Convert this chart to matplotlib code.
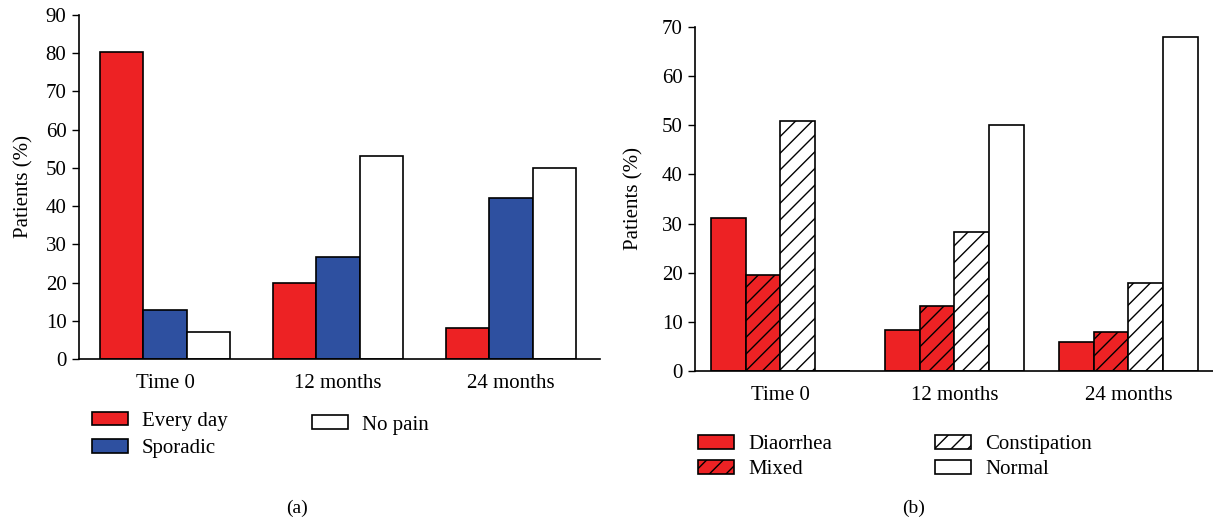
import numpy as np
import matplotlib
matplotlib.use("Agg")
import matplotlib.pyplot as plt

plt.rcParams["font.family"] = ["Liberation Serif", "DejaVu Serif"]
plt.rcParams["hatch.linewidth"] = 1.0

groups = ["Time 0", "12 months", "24 months"]

# panel (a): abdominal pain
pain_labels = ["Every day", "Sporadic", "No pain"]
every_day = [80.2, 20.0, 8.0]
sporadic = [12.7, 26.6, 42.0]
no_pain = [7.0, 53.2, 50.0]

# panel (b): bowel habit
bowel_labels = ["Diaorrhea", "Mixed", "Constipation", "Normal"]
diarrhea = [31.1, 8.3, 6.0]
mixed = [19.6, 13.3, 8.0]
constipation = [50.8, 28.3, 18.0]
normal = [0.0, 50.0, 68.0]

RED = "#ED2224"
BLUE = "#2E50A0"
FS = 15

fig = plt.figure(figsize=(12.13, 5.2), dpi=100)


def style_axes(ax, ymax, step):
    for s in ["top", "right"]:
        ax.spines[s].set_visible(False)
    for s in ["left", "bottom"]:
        ax.spines[s].set_linewidth(1.2)
    ax.set_ylim(0, ymax)
    ax.set_yticks(np.arange(0, ymax + 1, step))
    ax.tick_params(axis="y", direction="out", length=5, width=1.0, labelsize=FS, pad=4)
    ax.tick_params(axis="x", length=0, labelsize=FS, pad=11)
    ax.set_ylabel("Patients (%)", fontsize=FS)


# ---- (a)
ax1 = fig.add_axes([79 / 1213, 1 - 359 / 520, (600 - 79) / 1213, (359 - 15) / 520])
x = np.arange(len(groups))
w = 0.25
kw = dict(edgecolor="black", linewidth=1.2)
b1 = ax1.bar(x - w, every_day, w, color=RED, **kw)
b2 = ax1.bar(x, sporadic, w, color=BLUE, **kw)
b3 = ax1.bar(x + w, no_pain, w, color="white", **kw)
ax1.set_xlim(-0.497, 2.514)
ax1.set_xticks(x)
ax1.set_xticklabels(groups)
style_axes(ax1, 90, 10)
ax1.yaxis.set_label_coords(-0.088, 0.5)

# ---- (b)
ax2 = fig.add_axes([695 / 1213, 1 - 371 / 520, (1213 - 695) / 1213, (371 - 27) / 520])
w2 = 0.2
c1 = ax2.bar(x - 1.5 * w2, diarrhea, w2, color=RED, **kw)
c2 = ax2.bar(x - 0.5 * w2, mixed, w2, color=RED, hatch="//", **kw)
c3 = ax2.bar(x + 0.5 * w2, constipation, w2, color="white", hatch="//", **kw)
c4 = ax2.bar(x + 1.5 * w2, normal, w2, color="white", **kw)
ax2.set_xlim(-0.491, 2.486)
ax2.set_xticks(x)
ax2.set_xticklabels(groups)
style_axes(ax2, 70, 10)
ax2.yaxis.set_label_coords(-0.1, 0.5)

leg_kw = dict(loc="center left", frameon=False, fontsize=FS, borderpad=0,
              borderaxespad=0, handlelength=1.75, handleheight=0.65,
              handletextpad=0.65)


def add_legend(handles, labels, x0, yc, spacing):
    lg = fig.legend(handles, labels, bbox_to_anchor=(x0 / 1213, 1 - yc / 520),
                    labelspacing=spacing, **leg_kw)
    return lg


add_legend([b1, b2], pain_labels[:2], 92, 435, 0.4)
add_legend([b3], pain_labels[2:], 312, 425, 0.4)
add_legend([c1, c2], bowel_labels[:2], 698, 457, 0.3)
add_legend([c3, c4], bowel_labels[2:], 935, 457, 0.3)

fig.text(297 / 1213, 1 - 508 / 520, "(a)", ha="center", va="center", fontsize=FS - 1)
fig.text(914 / 1213, 1 - 508 / 520, "(b)", ha="center", va="center", fontsize=FS - 1)

fig.savefig("out.png", dpi=100)
